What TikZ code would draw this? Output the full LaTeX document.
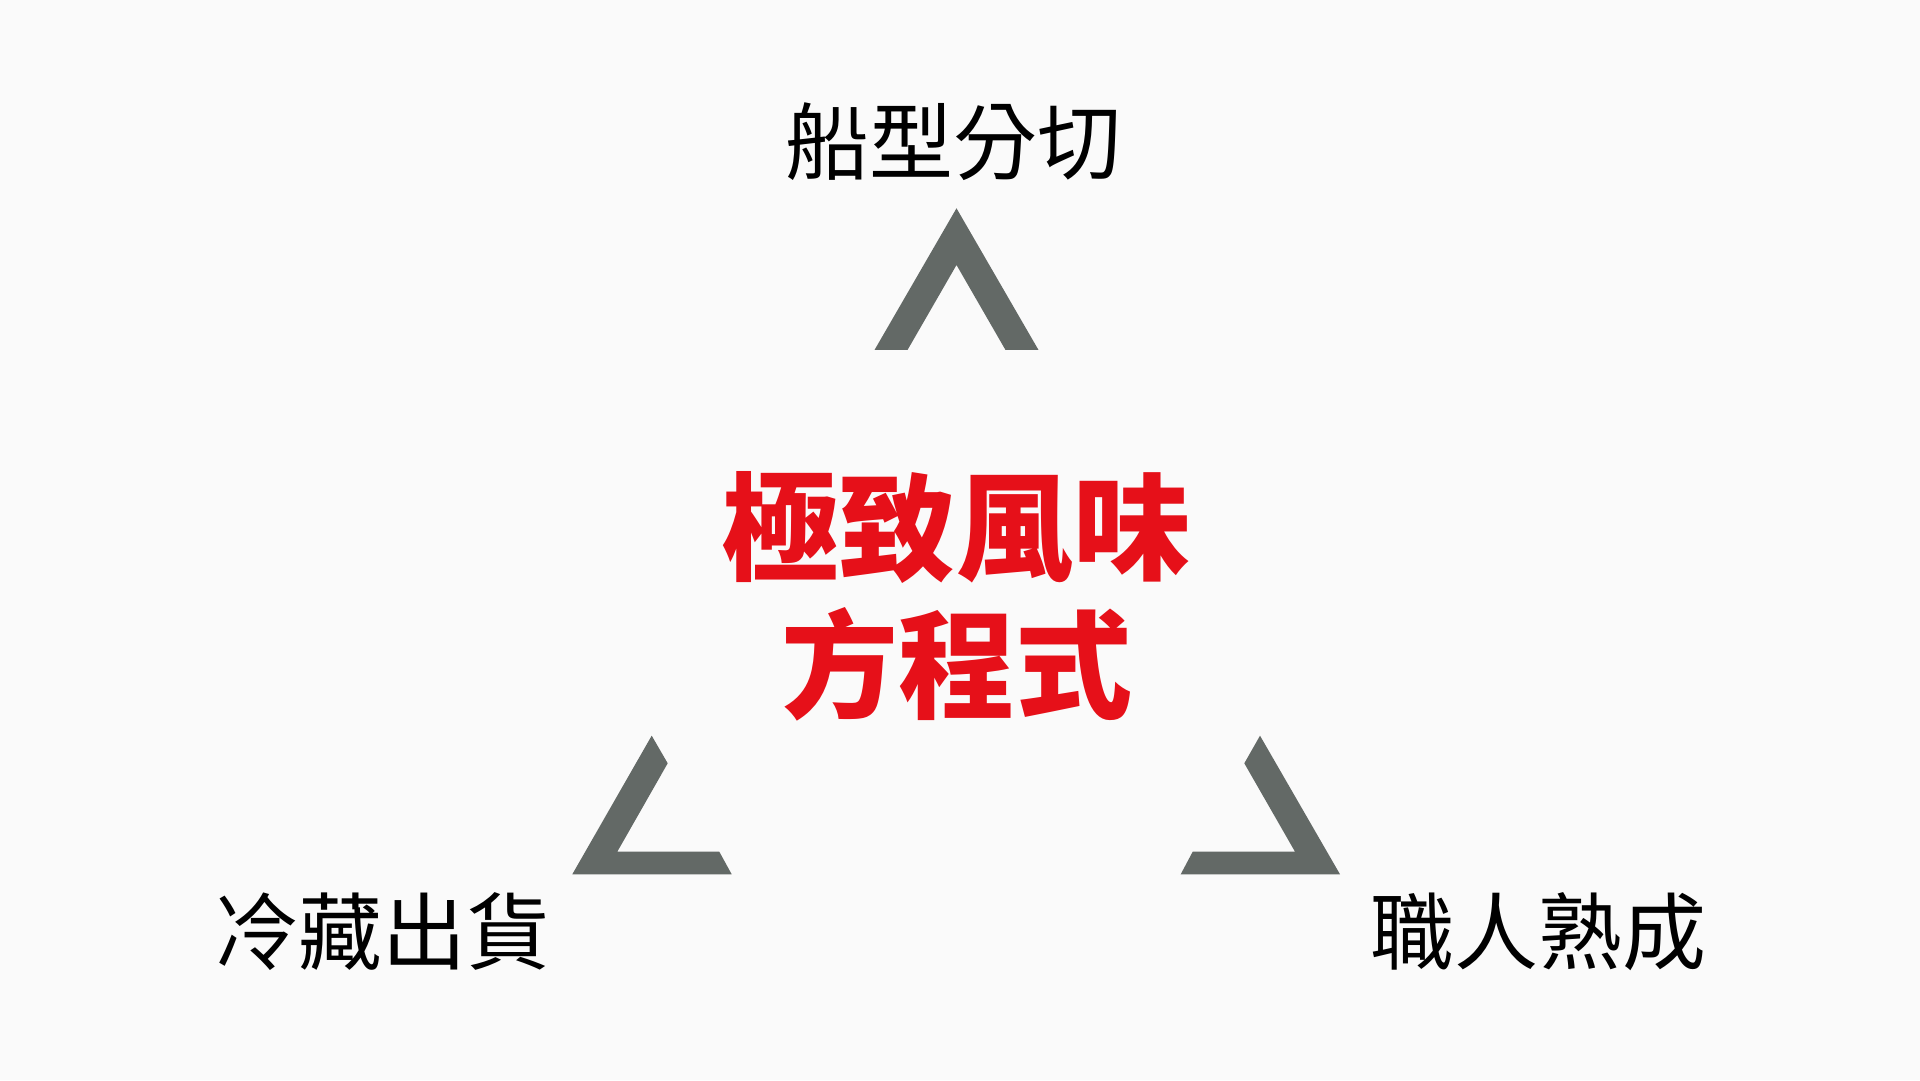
\documentclass[tikz,border=0pt]{standalone}
\usepackage{fontspec}
\newfontfamily\cjk{Noto Sans CJK TC}
\newfontfamily\cjkheavy{Noto Sans CJK TC Black}
\definecolor{bgc}{HTML}{FAFAFA}
\definecolor{chev}{HTML}{636966}
\definecolor{titred}{HTML}{E61019}
\begin{document}
\begin{tikzpicture}[x=1pt,y=1pt,
  chevron/.style={fill=chev,draw=none},
  label/.style={font=\cjk\fontsize{84}{90}\selectfont,text=black,anchor=base,inner sep=0pt},
  title/.style={font=\cjkheavy\fontsize{117}{130}\selectfont,text=titred,anchor=base,inner sep=0pt}]
\fill[bgc] (0,0) rectangle (1920,1080);
\useasboundingbox (0,0) rectangle (1920,1080);
% top chevron
\fill[chevron] (956.5,871.7) -- (1038.5,730) -- (1005.5,730) -- (956.5,815) -- (907.5,730) -- (874.5,730) -- cycle;
% bottom-left chevron
\fill[chevron] (651.7,344.3) -- (667.7,316.7) -- (617.3,228.3) -- (719.3,228.3) -- (731.7,205.7) -- (572.3,205.7) -- cycle;
% bottom-right chevron
\fill[chevron] (1260,344.3) -- (1244.3,316.7) -- (1295,228.3) -- (1192.7,228.3) -- (1180.7,205.7) -- (1340,205.7) -- cycle;
% labels
\node[label] (top) at (953,906) {船型分切};
\node[label] (left) at (382,117) {冷藏出貨};
\node[label] (right) at (1538,117) {職人熟成};
\node[title] (t1) at (956.5,508.4) {極致風味};
\node[title] (t2) at (957,370.3) {方程式};
\end{tikzpicture}
\end{document}
